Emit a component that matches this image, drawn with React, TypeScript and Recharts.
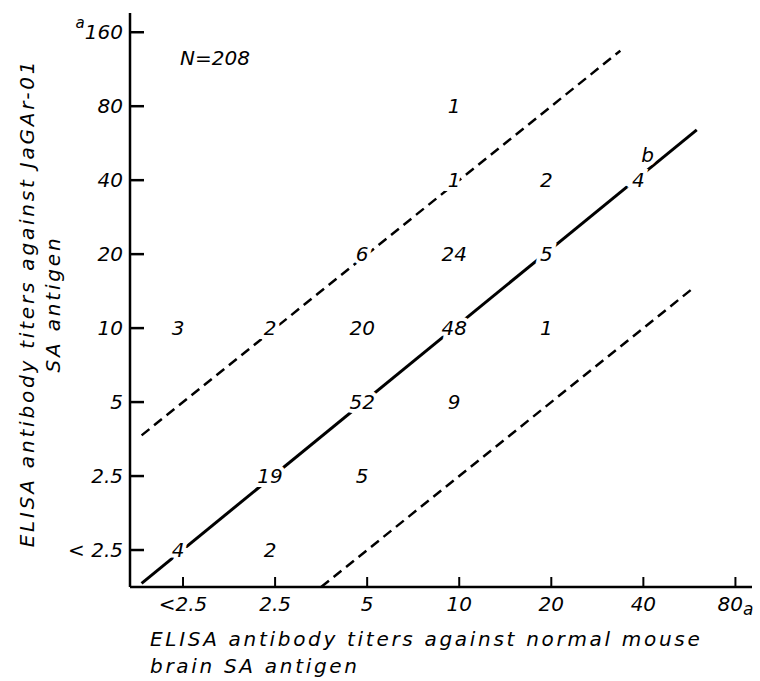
import React from 'react';
import { ScatterChart, Scatter, XAxis, YAxis } from 'recharts';

// Category tick labels (log2 titer steps)
const xLabels = ['<2.5', '2.5', '5', '10', '20', '40', '80'];
const yLabels = ['< 2.5', '2.5', '5', '10', '20', '40', '80', '160'];

// Cell counts: x index, y index, number of sera
const cellX = [0, 1, 1, 2, 2, 3, 0, 1, 2, 3, 4, 2, 3, 4, 3, 4, 5, 3];
const cellY = [0, 0, 1, 1, 2, 2, 3, 3, 3, 3, 3, 4, 4, 4, 5, 5, 5, 6];
const cellN = [4, 2, 19, 5, 52, 9, 3, 2, 20, 48, 1, 6, 24, 5, 1, 2, 4, 1];

// Guide lines (in index units): equality line and ±4-fold lines
const solidX = [-0.45, 5.58];
const solidY = [-0.45, 5.68];
const upperX = [-0.45, 4.75];
const upperY = [1.55, 6.75];
const lowerX = [1.5, 5.55];
const lowerY = [-0.5, 3.55];

// annotation "b"
const annotX = [5.1];
const annotY = [5.34];
const annotText = ['b'];

const cells = cellX.map((x, i) => ({ x, y: cellY[i], n: String(cellN[i]) }));
const annots = annotX.map((x, i) => ({ x, y: annotY[i], n: annotText[i] }));
const toPts = (xs: number[], ys: number[]) => xs.map((x, i) => ({ x, y: ys[i] }));

const FONT = '"DejaVu Sans", sans-serif';

const YTick = (props: any) => {
  const { x, y, payload } = props;
  const lbl = yLabels[payload.value];
  return (
    <g>
      <line x1={x} y1={y} x2={x + 14} y2={y} stroke="#000" strokeWidth={2.5} />
      <text x={x - 7} y={y} textAnchor="end" dominantBaseline="central" fontFamily={FONT} fontStyle="italic" fontSize={20} fill="#000">
        {payload.value === 7 ? (
          <>
            <tspan fontSize={15} dy={-9}>a</tspan>
            <tspan dy={9}>{lbl}</tspan>
          </>
        ) : lbl}
      </text>
    </g>
  );
};

const XTick = (props: any) => {
  const { x, y, payload } = props;
  const lbl = xLabels[payload.value];
  return (
    <g>
      <line x1={x} y1={y} x2={x} y2={y - 10} stroke="#000" strokeWidth={2} />
      <text x={x} y={y + 17} textAnchor="middle" dominantBaseline="central" fontFamily={FONT} fontStyle="italic" fontSize={20} fill="#000">
        {payload.value === 6 ? (
          <>
            <tspan>{lbl}</tspan>
            <tspan fontSize={17} dy={5}>a</tspan>
          </>
        ) : lbl}
      </text>
    </g>
  );
};

const NumShape = (props: any) => {
  const { cx, cy, payload } = props;
  return (
    <text
      x={cx - 5}
      y={cy}
      textAnchor="middle"
      dominantBaseline="central"
      fontFamily={FONT}
      fontStyle="italic"
      fontSize={20}
      fill="#000"
      stroke="#fff"
      strokeWidth={8}
      paintOrder="stroke"
    >
      {payload.n}
    </text>
  );
};

const NoShape = () => <g />;

export default function App() {
  return (
    <div style={{ position: 'absolute', left: 0, top: 0, width: 760, height: 681, background: '#fff' }}>
      <ScatterChart width={760} height={681} margin={{ top: 13, right: 8, bottom: 64, left: 70 }}>
        <XAxis
          type="number"
          dataKey="x"
          domain={[-0.576, 6.18]}
          allowDataOverflow
          ticks={[0, 1, 2, 3, 4, 5, 6]}
          tick={<XTick />}
          tickLine={false}
          tickSize={0}
          tickMargin={0}
          height={30}
          axisLine={{ stroke: '#000', strokeWidth: 2.5 }}
          interval={0}
        />
        <YAxis
          type="number"
          dataKey="y"
          domain={[-0.5, 7.26]}
          allowDataOverflow
          ticks={[0, 1, 2, 3, 4, 5, 6, 7]}
          tick={<YTick />}
          tickLine={false}
          tickSize={0}
          tickMargin={0}
          width={60}
          axisLine={{ stroke: '#000', strokeWidth: 2.5 }}
          interval={0}
        />
        <Scatter data={toPts(solidX, solidY)} fill="#000" line={{ stroke: '#000', strokeWidth: 3 }} shape={NoShape} isAnimationActive={false} />
        <Scatter data={toPts(upperX, upperY)} fill="#000" line={{ stroke: '#000', strokeWidth: 2.5, strokeDasharray: '10 6' }} shape={NoShape} isAnimationActive={false} />
        <Scatter data={toPts(lowerX, lowerY)} fill="#000" line={{ stroke: '#000', strokeWidth: 2.5, strokeDasharray: '10 6' }} shape={NoShape} isAnimationActive={false} />
        <Scatter data={cells} fill="#000" shape={NumShape} isAnimationActive={false} />
        <Scatter data={annots} fill="#000" shape={NumShape} isAnimationActive={false} />
        <text x={180} y={58} dominantBaseline="central" fontFamily={FONT} fontStyle="italic" fontSize={20} fill="#000">N=208</text>
        <text x={150} y={646} fontFamily={FONT} fontStyle="italic" fontSize={20} letterSpacing={2.7} fill="#000">
          ELISA antibody titers against normal mouse
        </text>
        <text x={150} y={673} fontFamily={FONT} fontStyle="italic" fontSize={20} letterSpacing={2.7} fill="#000">
          brain SA antigen
        </text>
        <text x={34} y={303} transform="rotate(-90 34 303)" textAnchor="middle" fontFamily={FONT} fontStyle="italic" fontSize={20} letterSpacing={2.8} fill="#000">
          ELISA antibody titers against JaGAr-01
        </text>
        <text x={60} y={304} transform="rotate(-90 60 304)" textAnchor="middle" fontFamily={FONT} fontStyle="italic" fontSize={20} letterSpacing={2.8} fill="#000">
          SA antigen
        </text>
      </ScatterChart>
    </div>
  );
}
